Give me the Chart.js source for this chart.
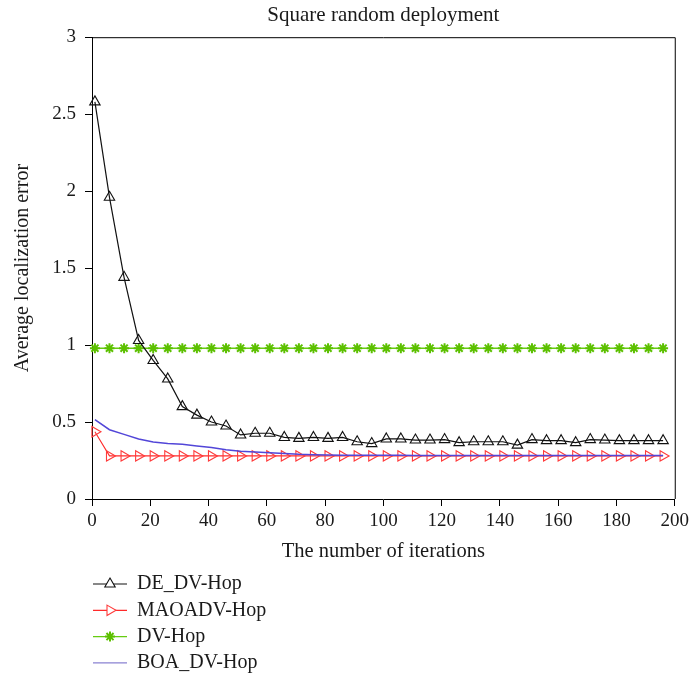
<!DOCTYPE html>
<html>
<head>
<meta charset="utf-8">
<script src="https://cdn.jsdelivr.net/npm/chart.js@4.4.1/dist/chart.umd.min.js"></script>
<style>
  body { margin: 0; background: #fff; }
</style>
</head>
<body>
<canvas id="myChart" width="693" height="680"></canvas>
<script>
'use strict';

// data (one marker every 5 iterations)
const iterations = [1, 6, 11, 16, 21, 26, 31, 36, 41, 46, 51, 56, 61, 66, 71, 76, 81, 86, 91, 96,
  101, 106, 111, 116, 121, 126, 131, 136, 141, 146, 151, 156, 161, 166, 171, 176, 181, 186, 191, 196];

const deDvHop = [2.58, 1.96, 1.44, 1.03, 0.90, 0.78, 0.60, 0.545, 0.50, 0.474, 0.416, 0.427, 0.427, 0.40, 0.394, 0.40, 0.394, 0.40, 0.372, 0.36,
  0.39, 0.39, 0.383, 0.383, 0.386, 0.366, 0.372, 0.372, 0.372, 0.35, 0.386, 0.379, 0.379, 0.366, 0.386, 0.383, 0.379, 0.379, 0.379, 0.379];

const maoaDvHop = [0.437, 0.28, 0.28, 0.28, 0.28, 0.28, 0.28, 0.28, 0.28, 0.28, 0.28, 0.28, 0.28, 0.28, 0.28, 0.28, 0.28, 0.28, 0.28, 0.28,
  0.28, 0.28, 0.28, 0.28, 0.28, 0.28, 0.28, 0.28, 0.28, 0.28, 0.28, 0.28, 0.28, 0.28, 0.28, 0.28, 0.28, 0.28, 0.28, 0.28];

const dvHop = [0.98, 0.98, 0.98, 0.98, 0.98, 0.98, 0.98, 0.98, 0.98, 0.98, 0.98, 0.98, 0.98, 0.98, 0.98, 0.98, 0.98, 0.98, 0.98, 0.98,
  0.98, 0.98, 0.98, 0.98, 0.98, 0.98, 0.98, 0.98, 0.98, 0.98, 0.98, 0.98, 0.98, 0.98, 0.98, 0.98, 0.98, 0.98, 0.98, 0.98];

const boaDvHop = [0.515, 0.45, 0.42, 0.39, 0.37, 0.36, 0.355, 0.345, 0.335, 0.32, 0.31, 0.305, 0.30, 0.295, 0.29, 0.288, 0.286, 0.285, 0.285, 0.284,
  0.284, 0.284, 0.283, 0.283, 0.283, 0.283, 0.283, 0.283, 0.283, 0.283, 0.283, 0.283, 0.283, 0.283, 0.283, 0.283, 0.283, 0.283, 0.283, 0.283];

const xTicks = [0, 20, 40, 60, 80, 100, 120, 140, 160, 180, 200];
const yTicks = [0, 0.5, 1, 1.5, 2, 2.5, 3];

const serif = '"Liberation Serif", "Times New Roman", serif';

function toPoints(values) {
  return iterations.map((x, i) => ({ x: x, y: values[i] }));
}

// top and right edges of the plot box
const boxFrame = {
  id: 'boxFrame',
  afterDraw(chart) {
    const a = chart.chartArea;
    const ctx = chart.ctx;
    ctx.save();
    ctx.strokeStyle = '#000';
    ctx.lineWidth = 1;
    ctx.beginPath();
    ctx.moveTo(a.left, a.top + 0.5);
    ctx.lineTo(a.right + 0.5, a.top + 0.5);
    ctx.lineTo(a.right + 0.5, a.bottom);
    ctx.stroke();
    ctx.restore();
  }
};

// legend under the x axis title: line + marker + label, one per row
const rowLegend = {
  id: 'rowLegend',
  afterDraw(chart) {
    const ctx = chart.ctx;
    ctx.save();
    ctx.font = '20px ' + serif;
    ctx.textBaseline = 'middle';
    chart.data.datasets.forEach((ds, i) => {
      const y = 584 + i * 26.3;
      ctx.strokeStyle = ds.legendColor || ds.borderColor;
      ctx.lineWidth = 1.2;
      ctx.beginPath();
      ctx.moveTo(93, y);
      ctx.lineTo(127, y);
      ctx.stroke();
      if (ds.pointRadius > 0 && Chart.helpers && Chart.helpers.drawPoint) {
        ctx.fillStyle = '#fff';
        ctx.strokeStyle = ds.pointBorderColor;
        ctx.lineWidth = ds.pointBorderWidth;
        Chart.helpers.drawPoint(ctx, {
          pointStyle: ds.pointStyle,
          rotation: ds.pointRotation || 0,
          radius: ds.pointRadius,
          borderWidth: ds.pointBorderWidth
        }, 110, y);
      }
      ctx.fillStyle = '#1a1a1a';
      ctx.fillText(ds.label, 137, y);
    });
    ctx.restore();
  }
};

const ctx = document.getElementById('myChart');

let config = {
  type: 'line',
  data: {
    datasets: [
      {
        label: 'DE_DV-Hop',
        data: toPoints(deDvHop),
        borderColor: '#111',
        borderWidth: 1.2,
        pointStyle: 'triangle',
        pointRadius: 6,
        pointBorderWidth: 1.1,
        pointBorderColor: '#111',
        pointBackgroundColor: 'rgba(255,255,255,0)',
        order: 2
      },
      {
        label: 'MAOADV-Hop',
        data: toPoints(maoaDvHop),
        borderColor: '#ff2a2a',
        borderWidth: 1.1,
        pointStyle: 'triangle',
        pointRotation: 90,
        pointRadius: 6,
        pointBorderWidth: 1.1,
        pointBorderColor: '#ff3b3b',
        pointBackgroundColor: 'rgba(255,255,255,0)',
        order: 3
      },
      {
        label: 'DV-Hop',
        data: toPoints(dvHop),
        borderColor: '#66cc11',
        borderWidth: 1.5,
        pointStyle: 'star',
        pointRadius: 5,
        pointBorderWidth: 2,
        pointBorderColor: '#5cc000',
        pointBackgroundColor: '#5cc000',
        order: 4
      },
      {
        label: 'BOA_DV-Hop',
        data: toPoints(boaDvHop),
        borderColor: '#5246d8',
        legendColor: '#8a82d2',
        borderWidth: 1.5,
        pointRadius: 0,
        order: 1
      }
    ]
  },
  options: {
    responsive: false,
    animation: false,
    clip: false,
    layout: {
      padding: { left: 0, right: 17, top: 0, bottom: 116 }
    },
    plugins: {
      legend: { display: false },
      tooltip: { enabled: false },
      title: {
        display: true,
        fullSize: false,
        text: 'Square random deployment',
        color: '#1a1a1a',
        font: { family: serif, size: 21, weight: 'normal' },
        padding: { top: 3, bottom: 9 }
      }
    },
    scales: {
      x: {
        type: 'linear',
        min: 0,
        max: 200,
        afterFit(scale) { scale.height = 65; },
        afterBuildTicks(scale) { scale.ticks = xTicks.map(v => ({ value: v })); },
        grid: { drawOnChartArea: false, drawTicks: true, tickLength: 7, color: '#000', tickColor: '#000' },
        border: { display: true, color: '#000', width: 1 },
        ticks: {
          color: '#1a1a1a',
          padding: 4,
          maxRotation: 0,
          font: { family: serif, size: 19 },
          callback: v => String(v)
        },
        title: {
          display: true,
          text: 'The number of iterations',
          color: '#1a1a1a',
          font: { family: serif, size: 20.5 },
          padding: { top: 0, bottom: 0 }
        }
      },
      y: {
        min: 0,
        max: 3,
        afterFit(scale) { scale.width = 92; },
        afterBuildTicks(scale) { scale.ticks = yTicks.map(v => ({ value: v })); },
        grid: { drawOnChartArea: false, drawTicks: true, tickLength: 7, color: '#000', tickColor: '#000' },
        border: { display: true, color: '#000', width: 1 },
        ticks: {
          color: '#1a1a1a',
          padding: 9,
          font: { family: serif, size: 19 },
          callback: v => String(v)
        },
        title: {
          display: true,
          text: 'Average localization error',
          color: '#1a1a1a',
          font: { family: serif, size: 20 },
          padding: { top: 11, bottom: 0 }
        }
      }
    }
  },
  plugins: [boxFrame, rowLegend]
};

let chart = new Chart(ctx, config);
</script>
</body>
</html>
